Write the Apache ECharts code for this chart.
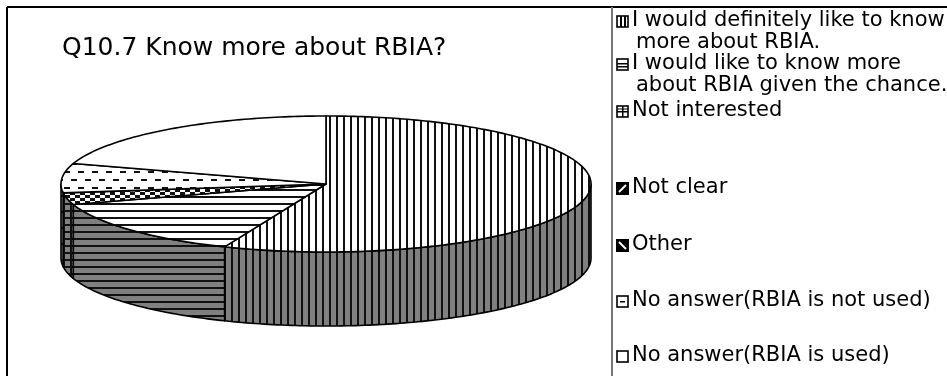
<!DOCTYPE html>
<html>
<head>
<meta charset="utf-8">
<script src="https://cdn.jsdelivr.net/npm/echarts@6/dist/echarts.min.js"></script>
<style>
  html, body { margin: 0; padding: 0; background: #fff; }
  #main { width: 947px; height: 376px; }
</style>
</head>
<body>
<div id="main"></div>
<script>
// Survey answers, in the order the slices run clockwise from 12 o'clock
const categories = [
  'I would definitely like to know more about RBIA.',
  'I would like to know more about RBIA given the chance.',
  'Not interested',
  'Not clear',
  'Other',
  'No answer(RBIA is not used)',
  'No answer(RBIA is used)'
];
// Legend wording, broken into the lines it is printed on
const legendLines = [
  ['I would definitely like to know', 'more about RBIA.'],
  ['I would like to know more', 'about RBIA given the chance.'],
  ['Not interested'],
  ['Not clear'],
  ['Other'],
  ['No answer(RBIA is not used)'],
  ['No answer(RBIA is used)']
];
// Number of respondents per answer
const responses = [81, 20, 4, 0, 0, 10, 29];
const chartTitle = 'Q10.7 Know more about RBIA?';

// ---- hatch fills -------------------------------------------------------
function hatch(w, h, bg, draw) {
  const c = document.createElement('canvas');
  c.width = w; c.height = h;
  const ctx = c.getContext('2d');
  ctx.fillStyle = bg; ctx.fillRect(0, 0, w, h);
  ctx.fillStyle = '#111';
  draw(ctx);
  return { image: c, repeat: 'repeat' };
}
const GRAY = '#808080';
const vLines = bg => hatch(7, 7, bg, ctx => ctx.fillRect(0, 0, 2, 7));
const hLines = bg => hatch(7, 7, bg, ctx => ctx.fillRect(0, 0, 7, 2));
const grid = bg => hatch(7, 7, bg, ctx => { ctx.fillRect(0, 0, 7, 2); ctx.fillRect(0, 0, 2, 7); });
const checker = bg => hatch(10, 6, bg, ctx => { ctx.fillRect(0, 0, 5, 3); ctx.fillRect(5, 3, 5, 3); });
const diagUp = bg => hatch(8, 8, bg, ctx => {
  ctx.strokeStyle = '#fff'; ctx.lineWidth = 2;
  ctx.beginPath(); ctx.moveTo(0, 8); ctx.lineTo(8, 0); ctx.stroke();
});
const diagDown = bg => hatch(8, 8, bg, ctx => {
  ctx.strokeStyle = '#fff'; ctx.lineWidth = 2;
  ctx.beginPath(); ctx.moveTo(0, 0); ctx.lineTo(8, 8); ctx.stroke();
});
const dashes = bg => hatch(14, 16, bg, ctx => { ctx.fillRect(1, 3, 6, 2); ctx.fillRect(8, 11, 6, 2); });

const topFill = [vLines('#fff'), hLines('#fff'), checker('#fff'), diagUp('#111'), diagDown('#111'), dashes('#fff'), '#fff'];
const sideFill = [vLines(GRAY), hLines(GRAY), grid(GRAY), diagUp('#111'), diagDown('#111'), dashes(GRAY), GRAY];

// ---- legend icons ------------------------------------------------------
function icon(kind) {
  const c = document.createElement('canvas');
  c.width = 13; c.height = 13;
  const ctx = c.getContext('2d');
  ctx.fillStyle = '#fff'; ctx.fillRect(0, 0, 13, 13);
  ctx.fillStyle = '#000';
  if (kind === 3 || kind === 4) { ctx.fillRect(0, 0, 13, 13); }
  ctx.strokeStyle = '#000'; ctx.lineWidth = 1.6;
  ctx.strokeRect(1, 1, 11, 11);
  if (kind === 0) { ctx.fillRect(4, 1, 2, 11); ctx.fillRect(8, 1, 2, 11); }
  if (kind === 1) { ctx.fillRect(1, 5, 11, 1.5); ctx.fillRect(1, 8, 11, 1.5); }
  if (kind === 2) { ctx.fillRect(1, 6, 11, 1.5); ctx.fillRect(6, 1, 1.5, 11); ctx.fillRect(1, 3.5, 11, 1); }
  if (kind === 3) { ctx.strokeStyle = '#fff'; ctx.lineWidth = 2; ctx.beginPath(); ctx.moveTo(3, 10); ctx.lineTo(10, 3); ctx.stroke(); }
  if (kind === 4) { ctx.strokeStyle = '#fff'; ctx.lineWidth = 2; ctx.beginPath(); ctx.moveTo(3, 3); ctx.lineTo(10, 10); ctx.stroke(); }
  if (kind === 5) { ctx.fillRect(4, 6, 5, 1.5); }
  return c;
}

// ---- 3D pie geometry -----------------------------------------------------
const PIE = { cx: 326, cy: 184, rx: 265, ry: 68, depth: 74 };
function rimPoint(deg, dy) {
  const t = deg * Math.PI / 180;
  return [PIE.cx + PIE.rx * Math.sin(t), PIE.cy - PIE.ry * Math.cos(t) + dy];
}
function arc(a0, a1, dy) {
  const pts = [];
  const n = Math.max(2, Math.ceil(Math.abs(a1 - a0)));
  for (let k = 0; k <= n; k++) pts.push(rimPoint(a0 + (a1 - a0) * k / n, dy));
  return pts;
}
const total = responses.reduce((s, v) => s + v, 0);

function renderSlice(params, api) {
  const i = params.dataIndex;
  const value = api.value(0);
  if (!value) return null;
  let before = 0;
  for (let k = 0; k < i; k++) before += responses[k];
  const a0 = before / total * 360;
  const a1 = (before + value) / total * 360;
  const children = [];
  // visible front wall (90..270 degrees)
  const s0 = Math.max(a0, 90), s1 = Math.min(a1, 270);
  if (s1 > s0) {
    const pts = arc(s0, s1, 0).concat(arc(s1, s0, PIE.depth));
    children.push({
      type: 'polygon',
      shape: { points: pts },
      style: { fill: sideFill[i], stroke: '#000', lineWidth: 1.6, lineJoin: 'round' }
    });
  }
  // top face
  const top = [[PIE.cx, PIE.cy]].concat(arc(a0, a1, 0));
  children.push({
    type: 'polygon',
    shape: { points: top },
    style: { fill: topFill[i], stroke: '#000', lineWidth: 1.6, lineJoin: 'round' }
  });
  return { type: 'group', children: children };
}

// ---- legend built from the categories ---------------------------------
const legendTop = [22, 65, 112, 189, 246, 302, 357];
const legendGraphics = [];
legendLines.forEach((lines, i) => {
  legendGraphics.push({
    type: 'image', left: 616, top: legendTop[i] - 7,
    style: { image: icon(i), width: 13, height: 13 }
  });
  lines.forEach((txt, j) => {
    legendGraphics.push({
      type: 'text', left: j ? 636 : 632, top: legendTop[i] - 12 + j * 22,
      style: { text: txt, fill: '#000', font: '21px "DejaVu Sans"' }
    });
  });
});

const chart = echarts.init(document.getElementById('main'), null, { renderer: 'canvas' });
chart.setOption({
  animation: false,
  backgroundColor: '#fff',
  title: {
    text: chartTitle, left: 57, top: 31,
    textStyle: { fontFamily: 'DejaVu Sans', fontSize: 25, fontWeight: 'normal', color: '#000' }
  },
  graphic: [
    { type: 'line', shape: { x1: 7, y1: 7, x2: 947, y2: 7 }, style: { stroke: '#000', lineWidth: 2 } },
    { type: 'line', shape: { x1: 7, y1: 7, x2: 7, y2: 376 }, style: { stroke: '#000', lineWidth: 2 } },
    { type: 'line', shape: { x1: 612, y1: 7, x2: 612, y2: 376 }, style: { stroke: '#777', lineWidth: 2 } }
  ].concat(legendGraphics),
  series: [{
    type: 'custom',
    name: 'Responses',
    coordinateSystem: 'none',
    renderItem: renderSlice,
    data: responses.map((v, i) => ({ name: categories[i], value: [v] }))
  }]
});
</script>
</body>
</html>
